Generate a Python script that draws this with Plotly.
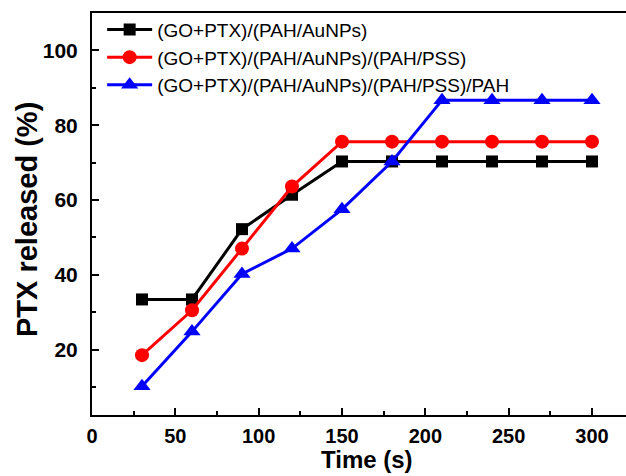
import plotly.graph_objects as go

# Release time points (s)
time_s = [30, 60, 90, 120, 150, 180, 210, 240, 270, 300]

# Cumulative PTX release (%) for each film architecture
names = [
    "(GO+PTX)/(PAH/AuNPs)",
    "(GO+PTX)/(PAH/AuNPs)/(PAH/PSS)",
    "(GO+PTX)/(PAH/AuNPs)/(PAH/PSS)/PAH",
]
release_1 = [33.4, 33.4, 52.2, 61.4, 70.3, 70.3, 70.3, 70.3, 70.3, 70.3]
release_2 = [18.5, 30.5, 47.0, 63.6, 75.6, 75.6, 75.6, 75.6, 75.6, 75.6]
release_3 = [10.2, 24.8, 40.2, 47.0, 57.5, 70.3, 86.7, 86.7, 86.7, 86.7]

x_ticks = [0, 50, 100, 150, 200, 250, 300]
y_ticks = [20, 40, 60, 80, 100]

x_title = "Time (s)"
y_title = "PTX released (%)"

colors = ["#000000", "#ff0000", "#0000ff"]
symbols = ["square", "circle", "triangle-up"]
sizes = [12, 14, 15]

fig = go.Figure()
for name, vals, c, s, sz in zip(names, [release_1, release_2, release_3], colors, symbols, sizes):
    fig.add_trace(go.Scatter(
        x=time_s, y=vals, name=name, mode="lines+markers",
        line=dict(color=c, width=3),
        marker=dict(symbol=s, size=sz, color=c),
    ))

FONT = "Liberation Sans, Arial"

fig.update_layout(
    width=626, height=476,
    margin=dict(l=92, r=0, t=13, b=61),
    paper_bgcolor="white", plot_bgcolor="white",
    showlegend=True,
    legend=dict(
        x=0.019, y=1.006, xanchor="left", yanchor="top",
        bgcolor="rgba(0,0,0,0)",
        font=dict(family=FONT, size=19, color="black"),
        tracegroupgap=0, itemwidth=45,
    ),
    xaxis=dict(
        range=[0, 320.4], tickvals=x_ticks,
        showline=True, linecolor="black", linewidth=2, mirror=True,
        ticks="inside", ticklen=7, tickwidth=2, tickcolor="black",
        minor=dict(dtick=25, tick0=0, ticks="inside", ticklen=4, tickwidth=2, tickcolor="black"),
        showgrid=False, zeroline=False,
        tickfont=dict(family=FONT, size=20, color="black", weight="bold"),
        ticklabelstandoff=2,
    ),
    yaxis=dict(
        range=[2.5, 110], tickvals=y_ticks,
        showline=True, linecolor="black", linewidth=2, mirror=False,
        ticks="inside", ticklen=7, tickwidth=2, tickcolor="black",
        minor=dict(dtick=10, tick0=0, ticks="inside", ticklen=4, tickwidth=2, tickcolor="black"),
        showgrid=False, zeroline=False,
        tickfont=dict(family=FONT, size=21, color="black", weight="bold"),
        ticklabelstandoff=8,
    ),
)

# Axis titles placed as annotations for precise positioning
fig.add_annotation(
    text=f"<b>{x_title}</b>", xref="x", yref="paper", x=165, y=0,
    xanchor="center", yanchor="top", yshift=-29, showarrow=False,
    font=dict(family=FONT, size=24, color="black"),
)
fig.add_annotation(
    text=f"<b>{y_title}</b>", xref="paper", yref="paper", x=0, y=0.5,
    xanchor="center", yanchor="middle", xshift=-65, yshift=-6, textangle=-90,
    showarrow=False, font=dict(family=FONT, size=29, color="black"),
)

fig.write_html("out.html")
